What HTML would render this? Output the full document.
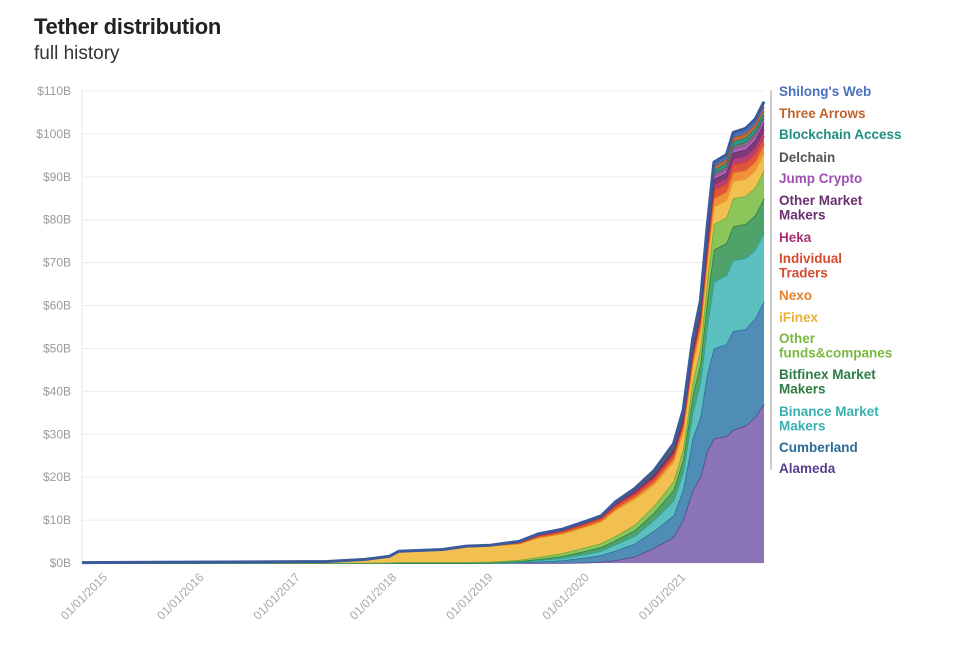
<!DOCTYPE html>
<html><head><meta charset="utf-8">
<style>
body{margin:0;background:#fff;width:962px;height:653px;overflow:hidden;font-family:"Liberation Sans",sans-serif;}
#title{position:absolute;left:34px;top:14px;font-size:22px;font-weight:bold;color:#222;letter-spacing:-0.3px}
#sub{position:absolute;left:34px;top:43px;font-size:19px;color:#333}
svg{position:absolute;left:0;top:0}
</style></head><body>
<div id="title">Tether distribution</div>
<div id="sub">full history</div>
<svg id="chart" width="962" height="653"></svg>
<script>
const dates=[2014.76,2017.3,2017.7,2017.95,2018.05,2018.5,2018.75,2019.0,2019.3,2019.5,2019.75,2020.0,2020.15,2020.3,2020.5,2020.7,2020.9,2021.0,2021.1,2021.18,2021.25,2021.32,2021.45,2021.52,2021.65,2021.75,2021.84];
const seriesNames=["Alameda","Cumberland","Binance Market Makers","Bitfinex Market Makers","Other funds&companes","iFinex","Nexo","Individual Traders","Heka","Other Market Makers","Jump Crypto","Delchain","Blockchain Access","Three Arrows","Shilong's Web"];
const alameda=[0,0,0,0,0,0,0,0,0,0,0,0.1,0.3,0.6,1.5,3.5,6,10,17,20,26,29,29.5,31,32,34,37];
const cumberland=[0,0,0,0,0,0,0,0,0.1,0.3,0.6,1.2,1.5,2.3,3,4,5,7,12,14,18,21,21.5,23,22.5,23,24];
const binance=[0,0,0,0,0,0,0,0,0.1,0.3,0.5,0.8,1,1.4,1.8,2.5,3.5,4,6,8,11,15.5,16,16.5,16.5,16,16];
const bitfinex=[0,0,0,0,0,0,0,0.1,0.2,0.3,0.5,0.8,0.9,1,1.3,1.7,2.5,3,4,4.5,6,7.5,7.5,8,8,8,8];
const otherFunds=[0,0,0.05,0.1,0.2,0.2,0.2,0.2,0.3,0.5,0.7,0.8,0.9,1,1.3,1.6,2,2.5,3,3.5,4.5,6,6,6.5,6.5,6.5,6.5];
const ifinex=[0.05,0.3,0.7,1.3,2.4,2.8,3.6,3.7,3.8,4.5,4.5,4.8,5,6,6,5,4.5,4,4,4,4,4,4,4,4,4,4];
const nexo=[0,0,0,0,0,0,0,0,0.05,0.1,0.2,0.2,0.3,0.4,0.5,0.6,0.8,1,1.2,1.4,1.7,2,2,2,2,2,2];
const individual=[0,0,0.05,0.1,0.1,0.1,0.1,0.1,0.2,0.4,0.5,0.6,0.6,0.7,0.8,0.9,1,1,1.2,1.4,1.7,2,2,2,2,2,2];
const heka=[0,0,0,0,0,0,0,0,0.1,0.1,0.1,0.2,0.2,0.3,0.3,0.4,0.5,0.6,0.8,0.9,1.1,1.2,1.2,1.3,1.4,1.5,1.5];
const otherMM=[0,0,0,0,0,0,0,0,0.1,0.2,0.2,0.2,0.2,0.3,0.3,0.4,0.5,0.5,0.6,0.7,1,1.2,1.2,1.3,1.4,1.5,1.5];
const jump=[0,0,0,0,0,0,0,0,0,0,0,0,0,0,0.1,0.2,0.3,0.4,0.5,0.55,0.7,0.8,0.85,0.95,1,1,1];
const delchain=[0,0,0,0,0,0,0,0,0,0,0,0,0,0,0.1,0.1,0.2,0.3,0.4,0.45,0.55,0.6,0.65,0.75,0.8,0.8,0.8];
const blockchainAccess=[0,0,0,0,0,0,0,0,0,0,0,0,0,0,0.1,0.2,0.3,0.4,0.5,0.55,0.7,0.8,0.85,0.95,1,1,1];
const threeArrows=[0,0,0,0,0,0,0,0,0,0,0,0,0,0.1,0.1,0.2,0.3,0.4,0.5,0.55,0.7,0.8,0.85,0.95,1,1,1];
const shilong=[0.05,0.05,0.05,0.05,0.05,0.05,0.05,0.05,0.1,0.1,0.1,0.1,0.1,0.2,0.2,0.3,0.4,0.5,0.6,0.7,0.9,1,1.05,1.15,1.2,1.2,1.2];
const yTicks=[0,10,20,30,40,50,60,70,80,90,100,110];
const xTicks=[2015,2016,2017,2018,2019,2020,2021];
const xTickLabels=["01/01/2015","01/01/2016","01/01/2017","01/01/2018","01/01/2019","01/01/2020","01/01/2021"];

const series=[alameda,cumberland,binance,bitfinex,otherFunds,ifinex,nexo,individual,heka,otherMM,jump,delchain,blockchainAccess,threeArrows,shilong];
const fills=["#8b75b6","#4f8db6","#5cc0c0","#4fa36a","#8cc55a","#f2c050","#f0903a","#e0553a","#b8407a","#7a3d7a","#b060b8","#777","#2a9a8a","#c86a30","#4a70c0"];
const strokes=["#5a3d8f","#2b6a96","#2aa0a0","#2d7d45","#6aa83a","#e8a820","#e07820","#c83a20","#9a2a62","#5a2a5a","#904098","#555","#1a7a6a","#a85020","#3a5a9c"];
const X0=82,X1=764,Y0=563,Y1=91;
const xs=d=>X0+(d-2014.76)/(2021.84-2014.76)*(X1-X0);
const ys=v=>Y0-v/110*(Y0-Y1);
const svg=document.getElementById('chart');
const NS="http://www.w3.org/2000/svg";
function mk(t,a){const e=document.createElementNS(NS,t);for(const k in a)e.setAttribute(k,a[k]);svg.appendChild(e);return e;}
yTicks.forEach(v=>{
 const l=mk('line',{x1:X0,x2:X1,y1:ys(v),y2:ys(v),stroke:'#ececec','stroke-width':1});
 
 
 const t=mk('text',{x:71,y:ys(v)+4,'text-anchor':'end','font-size':12,fill:'#9a9a9a','font-family':'Liberation Sans, sans-serif'});
 t.textContent='$'+v+'B';
 
 
});
const ax=mk('line',{x1:X0,x2:X0,y1:Y1,y2:Y0,stroke:'#e4e4e4'});


xTicks.forEach((v,i)=>{
 const x=xs(v);
 const t=mk('text',{x:x+3,y:578,'text-anchor':'end','font-size':12,fill:'#a8a8a8','font-family':'Liberation Sans, sans-serif',transform:`rotate(-45 ${x+3} 578)`});
 t.textContent=xTickLabels[i];
 
 
});
const cum=dates.map(()=>0);
series.forEach((s,si)=>{
 const lo=cum.slice();
 s.forEach((v,i)=>cum[i]+=v);
 let d='M'+dates.map((dt,i)=>xs(dt).toFixed(1)+','+ys(cum[i]).toFixed(1)).join('L');
 const top=d;
 for(let i=dates.length-1;i>=0;i--)d+='L'+xs(dates[i]).toFixed(1)+','+ys(lo[i]).toFixed(1);
 d+='Z';
 const p=mk('path',{d:d,fill:fills[si],stroke:'none'});
 
 
 const l=mk('path',{d:top,fill:'none',stroke:strokes[si],'stroke-width':si==series.length-1?3:1.5,'stroke-linejoin':'round'});
 
 
});
const br=mk('line',{x1:771,x2:771,y1:90,y2:470,stroke:'#bbb','stroke-width':1.5});


const legend=[["Shilong's Web",91,"#4a70c0"],["Three Arrows",113,"#c0632a"],["Blockchain Access",134,"#1f9080"],["Delchain",157,"#555"],["Jump Crypto",178,"#a050b0"],["Other Market|Makers",200,"#6a3070"],["Heka",237,"#a83070"],["Individual|Traders",258,"#d84a30"],["Nexo",295,"#e88028"],["iFinex",317,"#eab030"],["Other|funds&companes",338,"#7ab840"],["Bitfinex Market|Makers",374,"#2d7d45"],["Binance Market|Makers",411,"#3ab0b0"],["Cumberland",447,"#2b6a96"],["Alameda",468,"#5a3d8f"]];
legend.forEach(([n,y,c])=>{
 n.split('|').forEach((part,j)=>{
  const t=mk('text',{x:779,y:y+5+j*14.5,'font-size':13.5,'font-weight':'bold',fill:c,'font-family':'Liberation Sans, sans-serif'});
  t.textContent=part;
  
  
 });
});
</script>
</body></html>
